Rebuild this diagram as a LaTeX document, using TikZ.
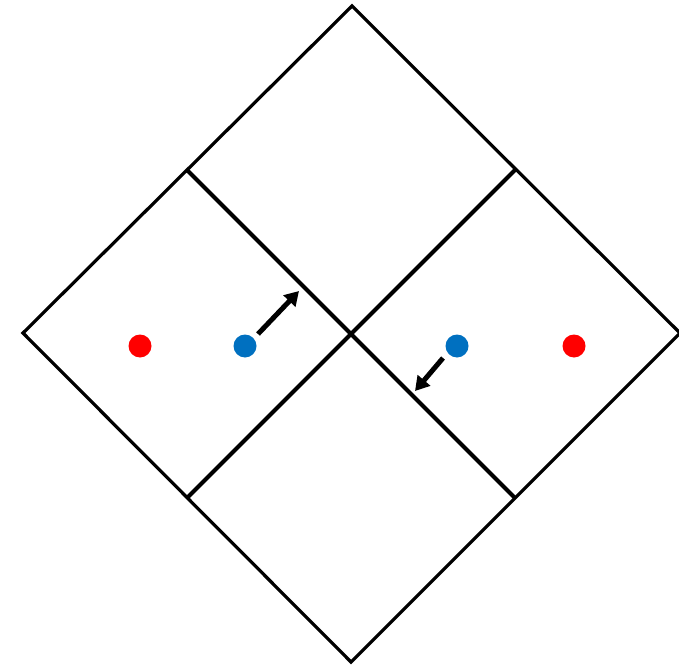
\documentclass[tikz,border=0pt]{standalone}
\usetikzlibrary{arrows.meta}
\definecolor{dotred}{RGB}{255,0,0}
\definecolor{dotblue}{RGB}{0,112,192}
\begin{document}
\begin{tikzpicture}[x=1pt,y=-1pt,
  outer/.style={line width=3.2pt,line join=miter},
  inner/.style={line width=4.2pt},
  dotr/.style={circle,fill=dotred,inner sep=0pt,minimum size=23pt},
  dotb/.style={circle,fill=dotblue,inner sep=0pt,minimum size=23pt},
  arr/.style={line width=5pt,-{Triangle[length=14pt,width=16pt]}}]
\useasboundingbox (0,0) rectangle (679,668);
\coordinate (T) at (352,6);
\coordinate (L) at (23,333);
\coordinate (R) at (680,333);
\coordinate (B) at (351,662);
\coordinate (UL) at (187,170);
\coordinate (UR) at (515,170);
\coordinate (LL) at (187,498);
\coordinate (LR) at (515,498);
\draw[outer] (T) -- (R) -- (B) -- (L) -- cycle;
\draw[inner] (UL) -- (LR);
\draw[inner] (UR) -- (LL);
\node[dotr] (r1) at (140,346) {};
\node[dotr] (r2) at (574,346) {};
\node[dotb] (b1) at (245,346) {};
\node[dotb] (b2) at (457,346) {};
\coordinate (a1) at (299,291);
\coordinate (a2) at (415,391);
\coordinate (s1) at (258,334);
\coordinate (s2) at (443,358);
\draw[arr] (s1) -- (a1);
\draw[arr] (s2) -- (a2);
\end{tikzpicture}
\end{document}
